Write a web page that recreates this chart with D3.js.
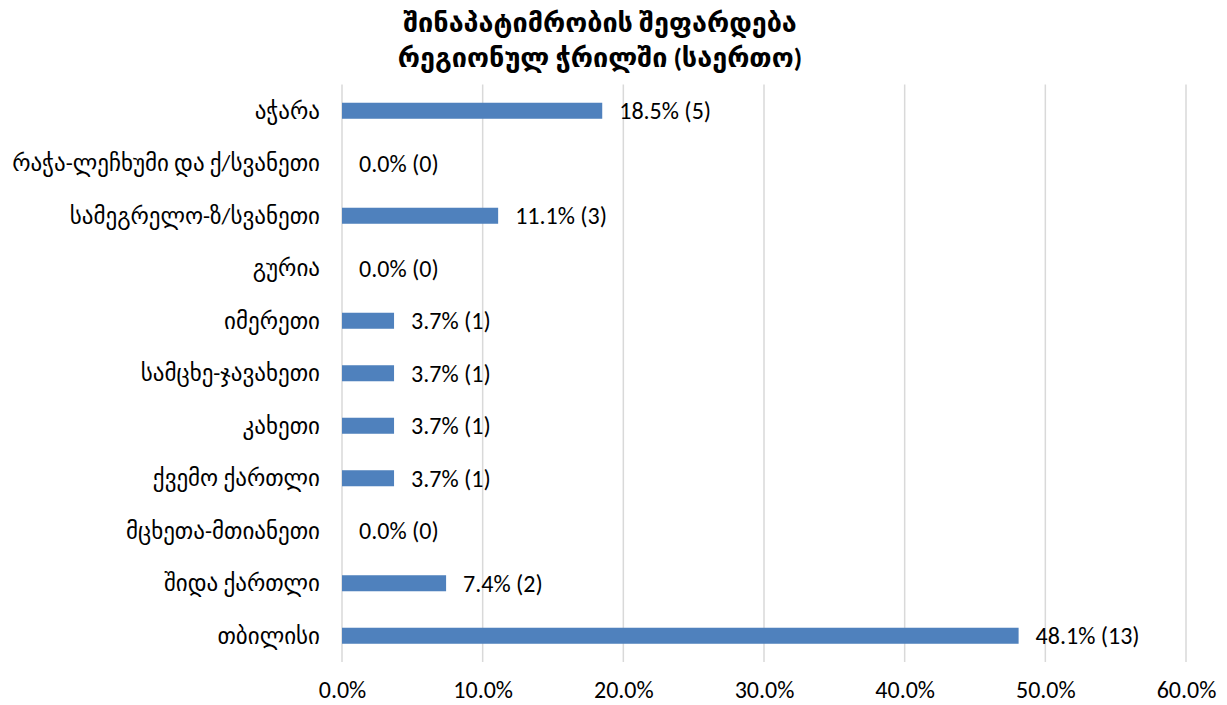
<!DOCTYPE html>
<html>
<head>
<meta charset="utf-8">
<script src="https://cdn.jsdelivr.net/npm/d3@7"></script>
<style>
  body { margin: 0; background: #fff; }
  text { font-family: Calibri, Carlito, 'Open Sans', 'DejaVu Sans', sans-serif; fill: #000; }
</style>
</head>
<body>
<div id="chart"></div>
<script>
const categories = ['აჭარა', 'რაჭა-ლეჩხუმი და ქ/სვანეთი', 'სამეგრელო-ზ/სვანეთი', 'გურია', 'იმერეთი',
  'სამცხე-ჯავახეთი', 'კახეთი', 'ქვემო ქართლი', 'მცხეთა-მთიანეთი', 'შიდა ქართლი', 'თბილისი'];
const percents = [18.5, 0, 11.1, 0, 3.7, 3.7, 3.7, 3.7, 0, 7.4, 48.1];
const counts = [5, 0, 3, 0, 1, 1, 1, 1, 0, 2, 13];
const ticks = [0, 10, 20, 30, 40, 50, 60];
const titleLines = ['შინაპატიმრობის შეფარდება', 'რეგიონულ ჭრილში (საერთო)'];

const data = categories.map((c, i) => ({name: c, value: percents[i], count: counts[i]}));

const W = 1227, H = 705;
const margin = {top: 84.5, right: 41, bottom: 43, left: 342};
const width = W - margin.left - margin.right;
const height = H - margin.top - margin.bottom;

const svg = d3.select('#chart')
  .append('svg')
  .attr('width', W)
  .attr('height', H);

svg.selectAll('.title')
  .data(titleLines)
  .join('text')
  .attr('class', 'title')
  .attr('x', 600)
  .attr('y', (d, i) => 32 + i * 35)
  .attr('text-anchor', 'middle')
  .style('font-size', '27px')
  .style('font-weight', 'bold')
  .text(d => d);

const g = svg.append('g')
  .attr('transform', `translate(${margin.left}, ${margin.top})`);

const x = d3.scaleLinear().domain([0, 60]).range([0, width]);
const y = d3.scaleBand()
  .domain(categories)
  .range([0, height])
  .paddingInner(0.695)
  .paddingOuter(0.3475);

// gridlines
g.selectAll('.grid')
  .data(ticks)
  .join('line')
  .attr('class', 'grid')
  .attr('x1', d => x(d)).attr('x2', d => x(d))
  .attr('y1', 0).attr('y2', height)
  .attr('stroke', '#d9d9d9')
  .attr('stroke-width', 1.5);

const xAxis = gg => gg
  .call(d3.axisBottom(x).tickValues(ticks).tickSize(0).tickPadding(19)
    .tickFormat(d => d3.format('.1f')(d) + '%'))
  .call(gg => gg.select('.domain').remove());

g.append('g')
  .attr('transform', `translate(0, ${height})`)
  .call(xAxis)
  .selectAll('text')
  .style('font-size', '24px')
  .attr('fill', '#000');

// category labels
g.selectAll('.cat')
  .data(data)
  .join('text')
  .attr('class', 'cat')
  .attr('x', -22)
  .attr('y', d => y(d.name) + y.bandwidth() / 2)
  .attr('dy', '0.35em')
  .attr('text-anchor', 'end')
  .style('font-size', '23px')
  .text(d => d.name);

g.selectAll('.bar')
  .data(data)
  .join('rect')
  .attr('class', 'bar')
  .attr('x', x(0))
  .attr('y', d => y(d.name))
  .attr('width', d => x(d.value) - x(0))
  .attr('height', y.bandwidth())
  .attr('fill', '#4f81bd');

g.selectAll('.label')
  .data(data)
  .join('text')
  .attr('class', 'label')
  .attr('x', d => x(d.value) + 17)
  .attr('y', d => y(d.name) + y.bandwidth() / 2)
  .attr('dy', '0.35em')
  .style('font-size', '24px')
  .text(d => `${d.value.toFixed(1)}% (${d.count})`);
</script>
</body>
</html>
